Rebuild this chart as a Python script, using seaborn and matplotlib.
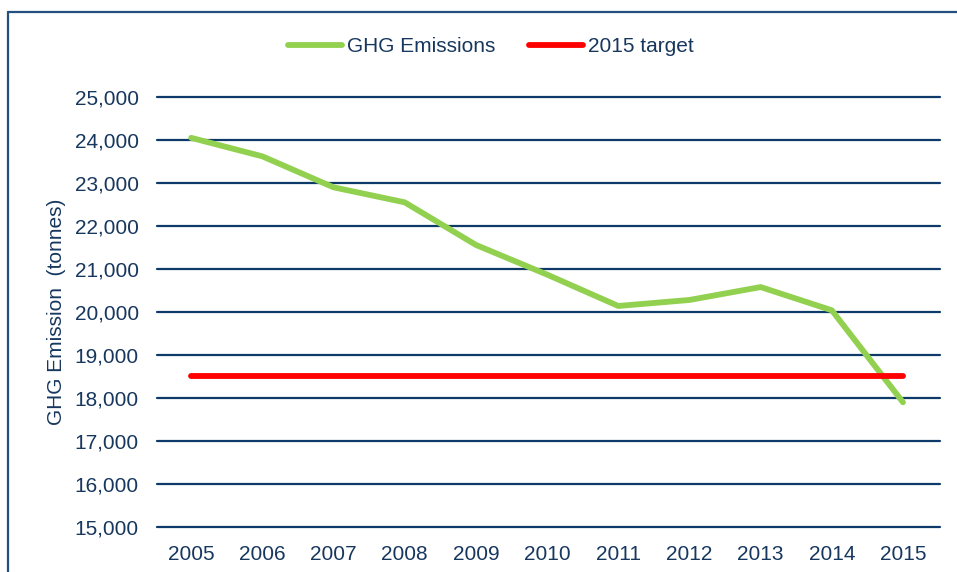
import matplotlib
matplotlib.use("Agg")
import matplotlib.pyplot as plt
import matplotlib.lines as mlines
import seaborn as sns
import pandas as pd

# data
years = [2005, 2006, 2007, 2008, 2009, 2010, 2011, 2012, 2013, 2014, 2015]
emissions = [24050, 23620, 22900, 22550, 21560, 20870, 20140, 20280, 20580, 20040, 17900]
target_value = 18500
ytick_values = [15000, 16000, 17000, 18000, 19000, 20000, 21000, 22000, 23000, 24000, 25000]

df = pd.DataFrame({"year": years, "emissions": emissions, "target": [target_value] * len(years)})

sns.set_theme(style="white")
plt.rcParams["font.family"] = ["Liberation Sans", "DejaVu Sans"]

navy = "#17375E"
grid_col = "#0E3A6A"
fs = 15

fig = plt.figure(figsize=(9.57, 5.72), dpi=100)
ax = fig.add_axes([157 / 957, 45 / 572, 783 / 957, 430 / 572])

# outer frame of the chart box, only left and top edges are inside the image
top_y = 1 - 12 / 572
left_x = 8 / 957
fig.lines.append(mlines.Line2D([left_x, left_x], [0, top_y], transform=fig.transFigure,
                               color="#24507F", linewidth=1.6))
fig.lines.append(mlines.Line2D([left_x, 1], [top_y, top_y], transform=fig.transFigure,
                               color="#24507F", linewidth=1.6))

sns.lineplot(data=df, x="year", y="emissions", ax=ax, color="#92D050", linewidth=4.2,
             label="GHG Emissions", solid_capstyle="round", zorder=3)
sns.lineplot(data=df, x="year", y="target", ax=ax, color="#FF0000", linewidth=4.2,
             label="2015 target", solid_capstyle="round", zorder=4)

ax.set_xlim(2004.52, 2015.52)
ax.set_ylim(15000, 25000)
ax.set_xticks(years)
ax.set_xticklabels([str(y) for y in years])
ax.set_yticks(ytick_values)
ax.set_yticklabels([f"{v:,}" for v in ytick_values])
ax.tick_params(axis="both", length=0, labelsize=fs, labelcolor=navy)
ax.tick_params(axis="y", pad=13)
ax.tick_params(axis="x", pad=13)

for v in ytick_values:
    ax.axhline(v, color=grid_col, linewidth=1.6, zorder=1, clip_on=False)

for s in ax.spines.values():
    s.set_visible(False)

ax.set_xlabel("")
ax.set_ylabel("GHG Emission  (tonnes)", fontsize=fs, color=navy, labelpad=6)

leg = ax.legend(loc="center left", bbox_to_anchor=(288 / 957, 1 - 47 / 572),
                bbox_transform=fig.transFigure, ncol=2, frameon=False,
                borderaxespad=0, borderpad=0,
                fontsize=fs, handlelength=2.6, handletextpad=0.25, columnspacing=1.6)
for t in leg.get_texts():
    t.set_color(navy)

fig.savefig("out.png", dpi=100)
